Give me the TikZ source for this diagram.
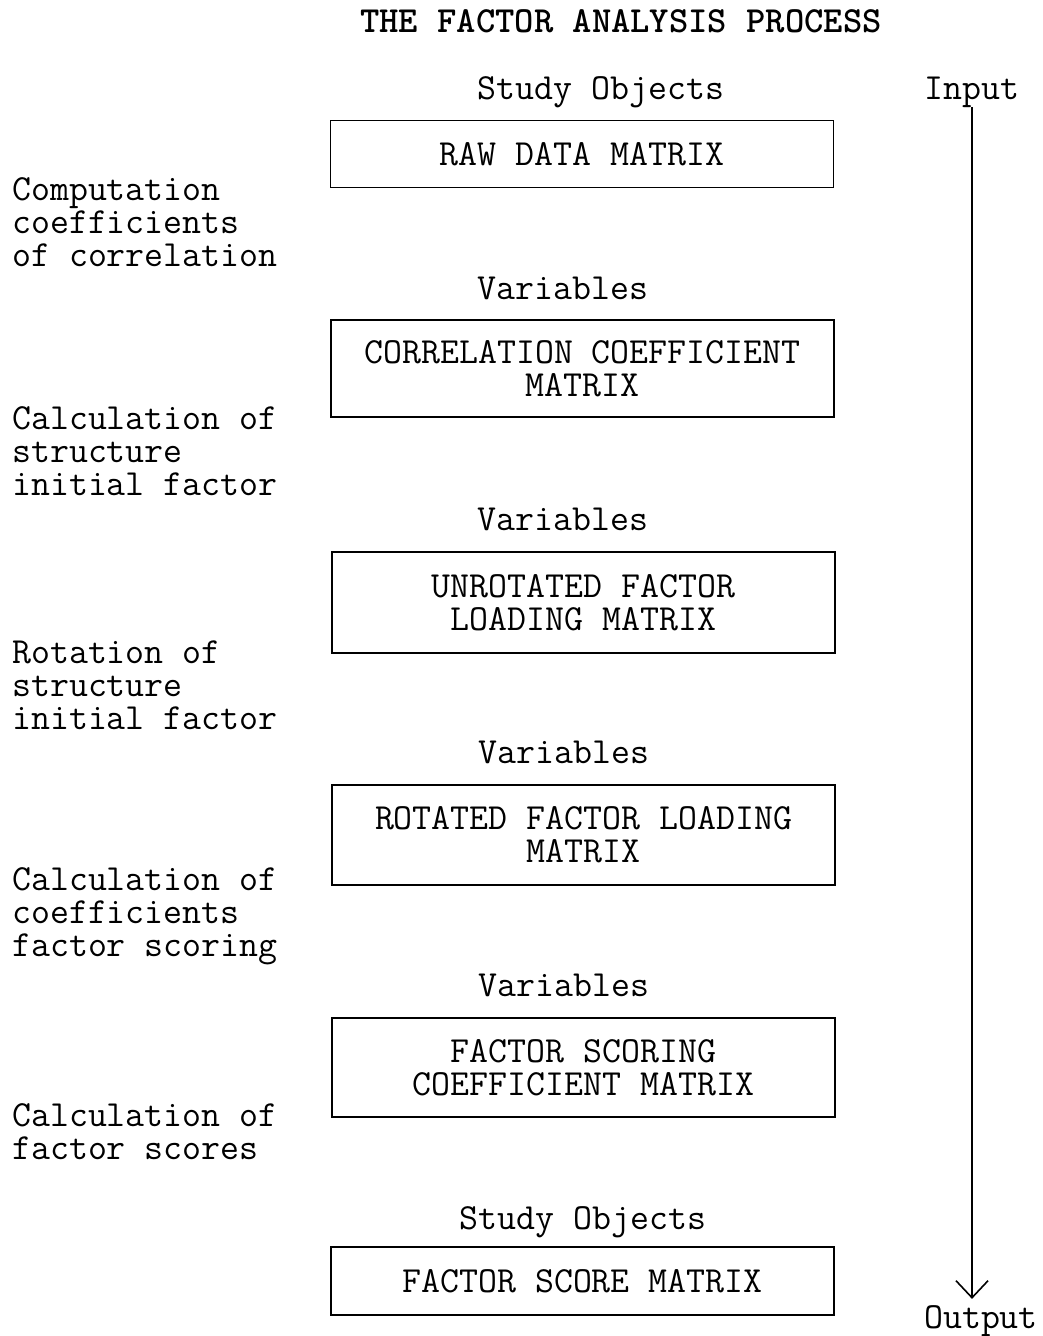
\documentclass[tikz,border=0pt]{standalone}
\usetikzlibrary{arrows.meta,positioning}
\tikzset{main base/.style={draw,line width=1.3pt,text centered, }, }
\tikzset{main box/.style={rectangle,main base,inner sep=0pt,
    minimum width=503pt, minimum height=67pt}, }
\tikzset{main box2/.style={main box,align=center,minimum height=99pt}, }
\tikzset{main verb/.style={inner sep=0pt,anchor=base}, }
\tikzset{side verb/.style={inner sep=0pt,anchor=west,align=left}, }
\tikzset{linea/.style={-{Straight Barb[length=17pt,width=32pt]},line width=1.6pt,draw}}

\begin{document}
\begin{tikzpicture}[x=1pt,y=-1pt,
  every node/.style={font=\ttfamily\fontsize{36.8}{33}\selectfont}]
 \useasboundingbox (0,0) rectangle (1043,1336);
 % title
 \node[main verb,font=\ttfamily\bfseries\fontsize{36.8}{33}\selectfont] (0) at (621,32) {THE FACTOR ANALYSIS PROCESS};
 % matrices
 \node[main verb] (1) at (601,99) {Study Objects};
 \node[main box] (2) at (582,154) {RAW DATA MATRIX};
 \node[main verb] (3) at (563,299) {Variables};
 \node[main box2,minimum height=97pt] (4) at (582.5,368.5) {CORRELATION COEFFICIENT\\MATRIX};
 \node[main verb] (5) at (563,530) {Variables};
 \node[main box2,minimum height=101pt] (6) at (583.5,602.5) {UNROTATED FACTOR\\LOADING MATRIX};
 \node[main verb] (7) at (564,763) {Variables};
 \node[main box2,minimum height=100pt] (8) at (583.5,835) {ROTATED FACTOR LOADING\\MATRIX};
 \node[main verb] (9) at (564,996) {Variables};
 \node[main box2] (10) at (583.5,1067.5) {FACTOR SCORING\\COEFFICIENT MATRIX};
 \node[main verb] (11) at (583,1229) {Study Objects};
 \node[main box,minimum height=68pt] (12) at (582.5,1281) {FACTOR SCORE MATRIX};
 % steps on the left
 \node[side verb] (13) at (12,222) {Computation\\coefficients\\of correlation};
 \node[side verb] (14) at (12,451) {Calculation of\\structure\\initial factor};
 \node[side verb] (15) at (12,685) {Rotation of\\structure\\initial factor};
 \node[side verb] (16) at (12,916) {Calculation of\\coefficients\\factor scoring};
 \node[side verb] (17) at (12,1131.5) {Calculation of\\factor scores};
 % input -> output
 \node[main verb] (18) at (972,99) {Input};
 \node[main verb] (19) at (981,1328) {Output};
 \path[linea,shorten >=6pt] (18.south) -- (18.south |- 19.north);
\end{tikzpicture}
\end{document}
